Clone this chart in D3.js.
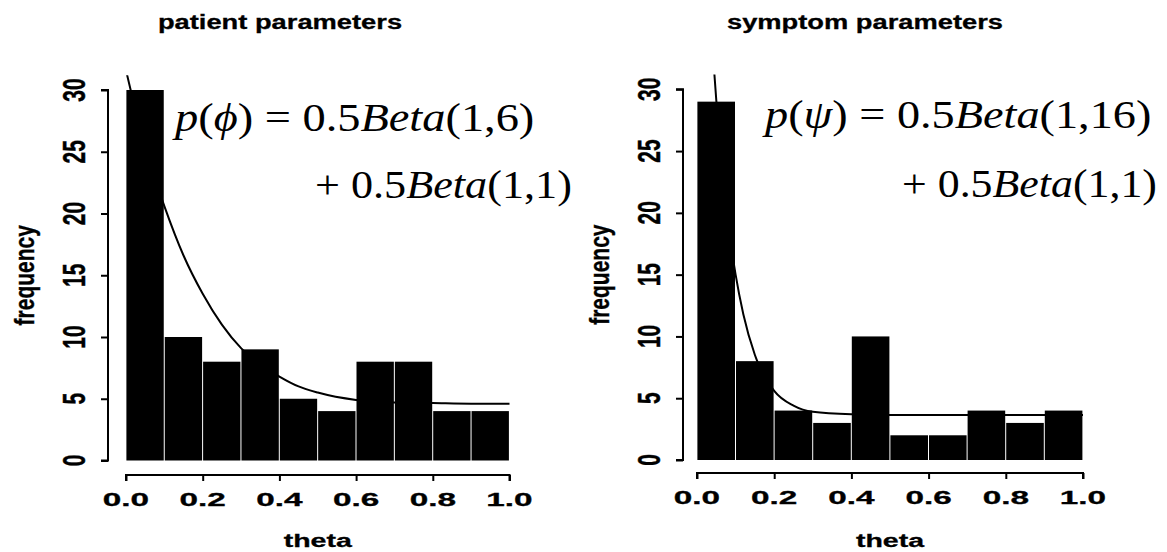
<!DOCTYPE html>
<html><head><meta charset="utf-8">
<script src="https://cdn.jsdelivr.net/npm/d3@7"></script>
<style>body{margin:0;background:#fff}svg{display:block}</style>
</head><body><svg id="c" width="1167" height="552"></svg>
<script>
// ---- data ----
const binStarts = [0.0, 0.1, 0.2, 0.3, 0.4, 0.5, 0.6, 0.7, 0.8, 0.9];
const binWidth = 0.1;
const patientCounts = [30, 10, 8, 9, 5, 4, 8, 8, 4, 4];
const symptomCounts = [29, 8, 4, 3, 10, 2, 2, 4, 3, 4];
const xTicks = [0.0, 0.2, 0.4, 0.6, 0.8, 1.0];
const xTickLabels = ["0.0", "0.2", "0.4", "0.6", "0.8", "1.0"];
const yTicks = [0, 5, 10, 15, 20, 25, 30];
const yTickLabels = ["0", "5", "10", "15", "20", "25", "30"];
// fitted density curves
const patientCurveX = [0, 0.02, 0.05, 0.08, 0.1, 0.15, 0.2, 0.25, 0.3, 0.35, 0.4, 0.45, 0.5, 0.6, 0.7, 0.8, 0.9, 1.0];
const patientCurveY = [31.6, 29.0, 25.5, 22.4, 20.6, 16.6, 13.5, 11.0, 9.1, 7.8, 6.8, 6.0, 5.5, 4.9, 4.7, 4.65, 4.6, 4.6];
const symptomCurveX = [0, 0.02, 0.04, 0.05, 0.06, 0.08, 0.1, 0.12, 0.15, 0.2, 0.25, 0.3, 0.4, 0.5, 0.6, 0.7, 0.8, 0.9, 1.0];
const symptomCurveY = [58.7, 44.2, 33.4, 29.1, 25.4, 19.3, 15.0, 11.8, 8.5, 5.6, 4.4, 3.9, 3.7, 3.65, 3.65, 3.65, 3.65, 3.65, 3.65];
const titles = ["patient parameters", "symptom parameters"];
const xLabel = "theta";
const yLabel = "frequency";
const greekSymbols = ["\u03D5", "\u03C8"];
const mixtureB = ["6", "16"];

// ---- layout ----
const panels = [
  {counts: patientCounts, cx: patientCurveX, cy: patientCurveY, title: titles[0], greek: greekSymbols[0], b: mixtureB[0],
   x0: 126, x1: 509.5, y0: 460.5, y30: 90, yAxisX: 108, xAxisY: 475, titleX: 280,
   f1: [175, 538, 131], f2: [315, 572, 198]},
  {counts: symptomCounts, cx: symptomCurveX, cy: symptomCurveY, title: titles[1], greek: greekSymbols[1], b: mixtureB[1],
   x0: 697, x1: 1083, y0: 460, y30: 89.3, yAxisX: 683, xAxisY: 473, titleX: 865,
   f1: [765, 1155, 128], f2: [902, 1157, 197]}
];

const svg = d3.select("#c");
const SANS = "'Liberation Sans', Arial, Helvetica, sans-serif";
const SERIF = "'Liberation Serif', 'Times New Roman', serif";

function stretchText(parent, x, y, txt, size, sx, rot, anchor) {
  return parent.append("text")
    .attr("font-family", SANS).attr("font-weight", "bold")
    .attr("font-size", size).attr("text-anchor", anchor || "middle")
    .attr("fill", "#000").attr("stroke", "#000").attr("stroke-width", 0.3)
    .attr("transform", `translate(${x},${y}) scale(${sx},1)` + (rot ? ` rotate(${rot})` : ""))
    .text(txt);
}

function formula(parent, parts, xa, xb, base) {
  const t = parent.append("text")
    .attr("font-family", SERIF).attr("font-size", 39).attr("fill", "#000")
    .attr("x", 0).attr("y", 0);
  parts.forEach(p => {
    t.append("tspan").attr("font-style", p[1] ? "italic" : "normal").text(p[0]);
  });
  const w = t.node().getBBox().width;
  const sx = (xb - xa) / w;
  t.attr("transform", `translate(${xa},${base}) scale(${sx},1)`);
}

panels.forEach((P, i) => {
  const g = svg.append("g");
  const x = d3.scaleLinear().domain([0, 1]).range([P.x0, P.x1]);
  const y = d3.scaleLinear().domain([0, 30]).range([P.y0, P.y30]);

  const cid = "clip" + i;
  svg.append("clipPath").attr("id", cid).append("rect")
    .attr("x", x(-0.04)).attr("y", y(31.2))
    .attr("width", x(1.04) - x(-0.04)).attr("height", y(-1.2) - y(31.2));

  // bars
  g.selectAll("rect.bar").data(P.counts).join("rect")
    .attr("class", "bar")
    .attr("x", (d, j) => x(binStarts[j]) + 0.4)
    .attr("width", (d, j) => x(binStarts[j] + binWidth) - x(binStarts[j]) - 1)
    .attr("y", d => y(d))
    .attr("height", d => y(0) - y(d))
    .attr("fill", "#000");

  // curve
  const line = d3.line().x(d => x(d[0])).y(d => y(d[1])).curve(d3.curveMonotoneX);
  g.append("path")
    .datum(P.cx.map((v, j) => [v, P.cy[j]]))
    .attr("clip-path", `url(#${cid})`)
    .attr("d", line)
    .attr("fill", "none").attr("stroke", "#000").attr("stroke-width", 2);

  // y axis
  const ya = g.append("g").attr("transform", `translate(${P.yAxisX},0)`)
    .call(d3.axisLeft(y).tickValues(yTicks).tickSize(7).tickFormat(""));
  ya.select(".domain").attr("d", `M-7,${y(0)}H0V${y(30)}H-7`).attr("stroke-width", 2);
  ya.selectAll(".tick line").attr("stroke-width", 2);
  yTicks.forEach((v, j) => {
    stretchText(g, P.yAxisX - 34, y(v), yTickLabels[j], 21, 1.45, -90, "middle")
      .attr("dy", "0.36em");
  });

  // x axis
  const xa = g.append("g").attr("transform", `translate(0,${P.xAxisY})`)
    .call(d3.axisBottom(x).tickValues(xTicks).tickSize(6).tickFormat(""));
  xa.select(".domain").attr("d", `M${x(0)},6V0H${x(1)}V6`).attr("stroke-width", 2);
  xa.selectAll(".tick line").attr("stroke-width", 2);
  xTicks.forEach((v, j) => {
    stretchText(g, x(v), P.xAxisY + 31, xTickLabels[j], 18.5, 1.8, 0, "middle");
  });

  // axis titles
  stretchText(g, x(0.5), 547, xLabel, 19, 1.5, 0, "middle");
  stretchText(g, P.yAxisX - 82, y(15), yLabel, 21, 1.3, -90, "middle").attr("dy", "0.3em");

  // panel title
  stretchText(g, P.titleX, 29, P.title, 21, 1.3, 0, "middle");

  // formula
  formula(g, [["p", 1], ["(", 0], [P.greek, 1], [") = 0.5", 0], ["Beta", 1], ["(1," + P.b + ")", 0]], P.f1[0], P.f1[1], P.f1[2]);
  formula(g, [["+ 0.5", 0], ["Beta", 1], ["(1,1)", 0]], P.f2[0], P.f2[1], P.f2[2]);
});
</script></body></html>
